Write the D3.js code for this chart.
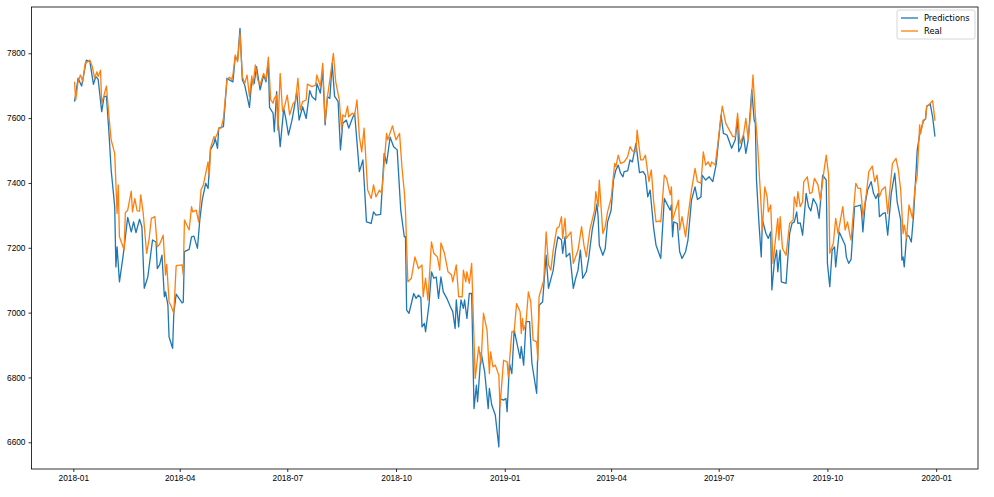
<!DOCTYPE html>
<html lang="en">
<head>
    <meta charset="UTF-8">
    <title>Predictions vs Real</title>
    <script src="https://d3js.org/d3.v7.min.js"></script>
    <style>
        body {
            margin: 0;
            background: #fff;
        }

        svg {
            display: block;
            font-family: "DejaVu Sans", sans-serif;
        }

        .axis text {
            font-size: 8.3px;
            fill: #000;
        }

        .axis path, .axis line {
            stroke: #000;
            stroke-width: 0.8px;
        }

        .series {
            fill: none;
            stroke-width: 1.3px;
            stroke-linejoin: round;
        }
    </style>
</head>
<body>
<svg id="chart"></svg>
<script>

    // day offsets are counted from 2018-01-01 (trading days)
    const predDays = [
        1, 4, 7, 11, 14, 17, 19, 21, 24, 26, 28, 30, 32, 35, 36, 37, 39, 42, 46, 49,
        51, 53, 56, 58, 60, 63, 67, 70, 71, 73, 75, 77, 78, 80, 81, 84, 85, 87, 92, 93,
        94, 98, 100, 102, 105, 107, 109, 112, 114, 116, 119, 120, 122, 123, 127, 130, 132, 135, 137, 139,
        141, 143, 145, 149, 151, 153, 155, 158, 161, 163, 165, 166, 169, 170, 172, 173, 175, 178, 180, 182,
        185, 187, 189, 191, 194, 197, 200, 202, 205, 206, 209, 211, 213, 215, 217, 219, 221, 224, 226, 228,
        231, 233, 236, 238, 242, 245, 248, 252, 254, 256, 260, 263, 265, 268, 271, 274, 277, 280, 281, 282,
        284, 288, 290, 292, 294, 295, 297, 298, 301, 303, 305, 307, 309, 311, 313, 316, 319, 321, 323, 324,
        326, 327, 328, 330, 331, 333, 335, 337, 339, 341, 342, 345, 348, 351, 352, 354, 357, 360, 361, 364,
        366, 367, 369, 371, 373, 378, 379, 381, 383, 386, 388, 392, 394, 397, 400, 402, 406, 408, 410, 413,
        414, 416, 417, 420, 423, 425, 427, 429, 431, 434, 436, 439, 442, 443, 444, 445, 448, 450, 452, 455,
        457, 459, 461, 463, 465, 466, 469, 471, 473, 476, 479, 482, 484, 486, 488, 491, 493, 497, 500, 502,
        505, 506, 507, 508, 511, 513, 515, 518, 520, 523, 526, 528, 531, 532, 535, 538, 541, 544, 548, 550,
        553, 557, 560, 562, 563, 565, 567, 569, 571, 574, 576, 577, 578, 580, 582, 583, 586, 588, 590, 591,
        593, 595, 596, 598, 599, 603, 606, 608, 610, 612, 613, 615, 617, 620, 622, 624, 626, 629, 631, 634,
        637, 638, 640, 642, 644, 645, 648, 651, 653, 654, 656, 658, 661, 664, 666, 667, 668, 670, 672, 675,
        677, 679, 681, 682, 685, 687, 689, 692, 695, 697, 700, 701, 702, 703, 705, 707, 709, 711, 714, 716,
        719, 721, 722, 725, 727, 729
    ];
    const predValues = [
        7651, 7723, 7699, 7779, 7774, 7704, 7728, 7720, 7620, 7666, 7668, 7563, 7440, 7327, 7141, 7203, 7095, 7172, 7294, 7249,
        7280, 7247, 7288, 7265, 7075, 7110, 7224, 7218, 7136, 7147, 7177, 7049, 7064, 7023, 6925, 6890, 6998, 7057, 7030, 7032,
        7188, 7195, 7234, 7236, 7198, 7286, 7347, 7399, 7383, 7502, 7522, 7538, 7507, 7569, 7574, 7723, 7718, 7712, 7790, 7779,
        7877, 7718, 7702, 7633, 7718, 7707, 7759, 7687, 7733, 7712, 7774, 7633, 7615, 7558, 7682, 7604, 7512, 7630, 7594, 7548,
        7594, 7635, 7682, 7594, 7635, 7599, 7685, 7666, 7656, 7707, 7677, 7748, 7579, 7666, 7661, 7769, 7668, 7651, 7502, 7584,
        7594, 7569, 7599, 7615, 7435, 7471, 7280, 7275, 7311, 7301, 7303, 7491, 7460, 7541, 7512, 7502, 7316, 7234, 7234, 7008,
        6998, 7059, 7044, 7054, 7046, 6956, 6967, 6941, 7028, 7126, 7106, 7110, 7044, 7110, 7064, 7044, 7018, 7003, 6951, 7039,
        6956, 7003, 7039, 7013, 7039, 6982, 7059, 7059, 6704, 6776, 6725, 6877, 6817, 6704, 6766, 6715, 6684, 6586, 6735, 6730,
        6735, 6694, 6843, 6812, 6946, 6859, 6895, 6838, 6972, 6972, 6843, 6751, 7023, 7033, 7177, 7075, 7131, 7193, 7234, 7224,
        7183, 7234, 7172, 7183, 7075, 7106, 7131, 7193, 7106, 7126, 7167, 7255, 7311, 7335, 7296, 7208, 7177, 7198, 7280, 7316,
        7409, 7440, 7455, 7430, 7419, 7435, 7437, 7471, 7465, 7522, 7432, 7435, 7424, 7357, 7378, 7260, 7208, 7167, 7352, 7337,
        7316, 7332, 7234, 7280, 7275, 7188, 7167, 7188, 7224, 7347, 7388, 7349, 7357, 7424, 7409, 7419, 7404, 7460, 7610, 7553,
        7548, 7507, 7533, 7599, 7496, 7512, 7548, 7491, 7533, 7687, 7594, 7584, 7409, 7280, 7172, 7286, 7244, 7229, 7249, 7070,
        7152, 7193, 7126, 7193, 7095, 7090, 7244, 7275, 7280, 7311, 7275, 7277, 7239, 7368, 7327, 7314, 7352, 7332, 7291, 7424,
        7409, 7152, 7080, 7193, 7203, 7141, 7249, 7224, 7208, 7172, 7152, 7164, 7327, 7329, 7332, 7306, 7249, 7337, 7378, 7404,
        7368, 7352, 7368, 7296, 7306, 7308, 7239, 7368, 7430, 7342, 7286, 7162, 7172, 7141, 7239, 7236, 7218, 7306, 7502, 7548,
        7589, 7599, 7637, 7643, 7604, 7543
    ];

    const realDays = [
        1, 2, 4, 6, 8, 10, 14, 16, 18, 20, 21, 23, 24, 26, 28, 30, 32, 35, 37, 38,
        39, 43, 44, 46, 49, 50, 52, 54, 56, 57, 59, 62, 64, 66, 69, 71, 73, 76, 78, 79,
        81, 83, 85, 87, 92, 93, 94, 98, 100, 101, 104, 106, 108, 110, 114, 115, 116, 119, 120, 122,
        123, 125, 127, 130, 132, 134, 135, 137, 139, 141, 143, 145, 147, 149, 151, 152, 154, 156, 158, 161,
        163, 165, 167, 169, 170, 172, 173, 175, 177, 179, 181, 183, 186, 188, 190, 192, 194, 197, 198, 202,
        205, 206, 209, 211, 213, 215, 217, 220, 222, 225, 227, 228, 230, 232, 233, 236, 238, 240, 242, 244,
        246, 249, 252, 254, 256, 259, 261, 265, 266, 270, 273, 276, 278, 280, 281, 283, 286, 289, 292, 295,
        296, 298, 300, 303, 305, 308, 310, 311, 314, 317, 320, 321, 324, 326, 329, 330, 332, 333, 335, 337,
        340, 343, 345, 347, 350, 352, 353, 355, 357, 360, 361, 364, 367, 368, 371, 373, 375, 378, 379, 380,
        381, 383, 385, 387, 389, 392, 393, 394, 398, 400, 402, 404, 406, 409, 411, 413, 414, 416, 417, 421,
        423, 427, 430, 432, 434, 437, 441, 442, 444, 445, 448, 450, 452, 455, 458, 459, 461, 463, 466, 469,
        471, 473, 476, 477, 480, 482, 484, 487, 489, 491, 493, 496, 497, 500, 502, 505, 506, 507, 509, 512,
        513, 515, 518, 520, 523, 526, 528, 531, 533, 535, 537, 539, 540, 543, 545, 549, 552, 555, 558, 560,
        562, 564, 567, 569, 571, 573, 575, 577, 579, 581, 583, 585, 587, 588, 590, 592, 594, 596, 597, 598,
        600, 603, 606, 609, 610, 612, 613, 615, 617, 618, 621, 623, 625, 627, 630, 632, 635, 637, 639, 640,
        643, 645, 647, 651, 653, 655, 657, 658, 662, 664, 666, 667, 668, 671, 673, 676, 678, 680, 682, 684,
        687, 689, 693, 696, 698, 700, 702, 703, 705, 707, 710, 712, 714, 716, 717, 719, 721, 722, 725, 727,
        729
    ];
    const realValues = [
        7712, 7656, 7712, 7733, 7712, 7769, 7779, 7759, 7723, 7743, 7728, 7748, 7646, 7671, 7699, 7610, 7533, 7491, 7306, 7394,
        7234, 7193, 7308, 7316, 7375, 7311, 7352, 7314, 7313, 7363, 7311, 7183, 7224, 7291, 7296, 7203, 7211, 7239, 7116, 7149,
        7033, 7018, 6998, 7145, 7147, 7116, 7286, 7255, 7327, 7311, 7316, 7280, 7378, 7394, 7465, 7419, 7507, 7543, 7538, 7553,
        7569, 7569, 7599, 7718, 7726, 7720, 7733, 7795, 7774, 7862, 7728, 7707, 7733, 7666, 7730, 7702, 7764, 7718, 7702, 7738,
        7718, 7788, 7656, 7646, 7661, 7671, 7563, 7738, 7620, 7640, 7671, 7610, 7646, 7651, 7723, 7625, 7651, 7656, 7705, 7697,
        7702, 7733, 7697, 7769, 7589, 7666, 7718, 7800, 7712, 7656, 7563, 7610, 7604, 7637, 7604, 7615, 7610, 7656, 7543, 7496,
        7569, 7378, 7352, 7394, 7357, 7378, 7368, 7553, 7533, 7576, 7533, 7553, 7450, 7373, 7316, 7095, 7106, 7172, 7136, 7147,
        7049, 7106, 7039, 7218, 7183, 7172, 7131, 7215, 7183, 7126, 7116, 7095, 7147, 7049, 7049, 7131, 7095, 7126, 7090, 7152,
        6797, 6895, 6843, 6998, 6946, 6812, 6879, 6833, 6838, 6807, 6710, 6853, 6848, 6802, 6941, 6941, 7028, 7003, 6936, 6982,
        6946, 6968, 7064, 7033, 6915, 6910, 6853, 7049, 7100, 7249, 7147, 7131, 7193, 7260, 7265, 7296, 7229, 7291, 7229, 7249,
        7152, 7193, 7265, 7208, 7172, 7255, 7316, 7373, 7327, 7409, 7244, 7265, 7311, 7352, 7460, 7450, 7486, 7460, 7465, 7481,
        7512, 7499, 7496, 7563, 7471, 7471, 7486, 7404, 7440, 7342, 7280, 7283, 7280, 7424, 7414, 7363, 7388, 7286, 7311, 7347,
        7255, 7296, 7234, 7296, 7378, 7445, 7404, 7399, 7496, 7455, 7465, 7450, 7465, 7455, 7512, 7637, 7584, 7563, 7543, 7543,
        7615, 7522, 7548, 7599, 7533, 7615, 7733, 7610, 7512, 7388, 7255, 7388, 7357, 7311, 7332, 7152, 7224, 7291, 7224, 7296,
        7198, 7177, 7275, 7286, 7357, 7327, 7373, 7327, 7342, 7404, 7419, 7368, 7370, 7414, 7394, 7347, 7435, 7486, 7424, 7183,
        7214, 7291, 7244, 7327, 7255, 7280, 7239, 7224, 7399, 7383, 7383, 7347, 7296, 7368, 7435, 7452, 7404, 7424, 7357, 7378,
        7388, 7306, 7460, 7476, 7440, 7378, 7244, 7270, 7229, 7332, 7291, 7383, 7424, 7579, 7553, 7594, 7596, 7635, 7646, 7654,
        7592
    ];

    const seriesNames = ["Predictions", "Real"];
    const seriesColors = ["#1f77b4", "#ff7f0e"];
    const yTicks = [6600, 6800, 7000, 7200, 7400, 7600, 7800];

    const width = 994;
    const height = 497;
    const margin = {top: 7, right: 16, bottom: 28, left: 31.5};

    const start = new Date(Date.UTC(2018, 0, 1));
    const toDate = d => d3.utcDay.offset(start, d);
    const dayMs = 864e5;

    const series = [
        predDays.map((d, i) => ({date: toDate(d), value: predValues[i]})),
        realDays.map((d, i) => ({date: toDate(d), value: realValues[i]}))
    ];

    const svg = d3.select("#chart")
        .attr("width", width)
        .attr("height", height);

    // matplotlib style 5% padding round the data
    const x = d3.scaleUtc()
        .domain([new Date(start.getTime() - 35.4 * dayMs), new Date(start.getTime() + 765.4 * dayMs)])
        .range([margin.left, width - margin.right]);

    const y = d3.scaleLinear()
        .domain([6517.6, 7942.8])
        .range([height - margin.bottom, margin.top]);

    const line = d3.line()
        .x(d => x(d.date))
        .y(d => y(d.value));

    svg.append("g")
        .selectAll("path")
        .data(series)
        .enter().append("path")
        .attr("class", "series")
        .attr("stroke", (d, i) => seriesColors[i])
        .attr("d", line);

    // axes
    const xAxis = svg.append("g")
        .attr("class", "axis")
        .attr("transform", `translate(0,${height - margin.bottom})`)
        .call(d3.axisBottom(x)
            .ticks(d3.utcMonth.every(3))
            .tickFormat(d3.utcFormat("%Y-%m"))
            .tickSizeInner(3)
            .tickSizeOuter(0)
            .tickPadding(3));
    xAxis.select(".domain").remove();

    const yAxis = svg.append("g")
        .attr("class", "axis")
        .attr("transform", `translate(${margin.left},0)`)
        .call(d3.axisLeft(y)
            .tickValues(yTicks)
            .tickFormat(d3.format("d"))
            .tickSizeInner(3)
            .tickSizeOuter(0)
            .tickPadding(3));
    yAxis.select(".domain").remove();

    // frame
    svg.append("rect")
        .attr("x", margin.left)
        .attr("y", margin.top)
        .attr("width", width - margin.right - margin.left)
        .attr("height", height - margin.bottom - margin.top)
        .attr("fill", "none")
        .attr("stroke", "#000")
        .attr("stroke-width", 0.8);

    // legend
    const legend = svg.append("g")
        .attr("transform", `translate(${width - margin.right - 81},${margin.top + 3})`);

    legend.append("rect")
        .attr("width", 78)
        .attr("height", 29)
        .attr("rx", 2)
        .attr("fill", "#fff")
        .attr("fill-opacity", 0.8)
        .attr("stroke", "#ccc")
        .attr("stroke-width", 0.8);

    seriesNames.forEach((name, i) => {
        const row = legend.append("g")
            .attr("transform", `translate(4,${8 + i * 13})`);
        row.append("line")
            .attr("x1", 0)
            .attr("x2", 17)
            .attr("stroke", seriesColors[i])
            .attr("stroke-width", 1.3);
        row.append("text")
            .attr("x", 23)
            .attr("dy", "0.35em")
            .attr("font-size", 8.3)
            .attr("fill", "#000")
            .text(name);
    });
</script>
</body>
</html>
